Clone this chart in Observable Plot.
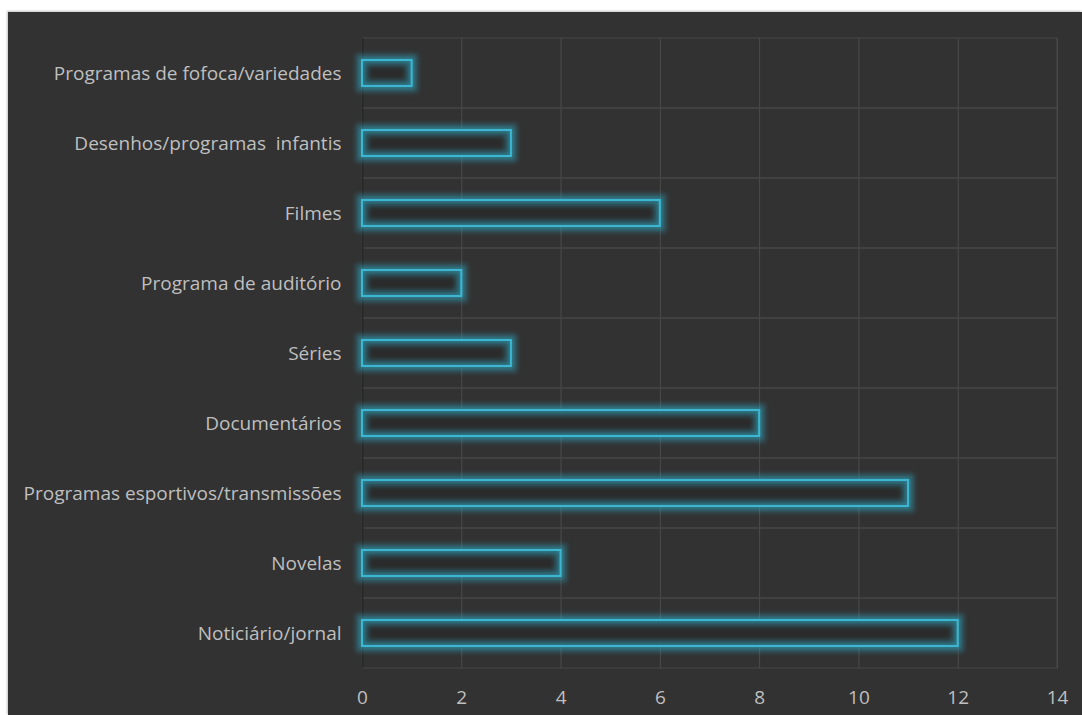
<!DOCTYPE html>
<html>
<head>
<meta charset="utf-8">
<script src="https://cdn.jsdelivr.net/npm/d3@7"></script>
<script src="https://cdn.jsdelivr.net/npm/@observablehq/plot@0.6"></script>
<style>
  html, body { margin: 0; padding: 0; background: #ffffff; width: 1082px; height: 715px; overflow: hidden; }
  #panel { position: absolute; left: 8px; top: 12px; width: 1074px; height: 703px; background: #323232; box-shadow: -1px -1px 2px rgba(0,0,0,0.25); }
  #panel svg { display: block; }
  .halo { filter: blur(2.5px); }
  .glow { filter: drop-shadow(0 0 2px rgba(47,179,208,0.8)); }
</style>
</head>
<body>
<div id="panel"></div>
<script>
const categories = [
  "Programas de fofoca/variedades",
  "Desenhos/programas  infantis",
  "Filmes",
  "Programa de auditório",
  "Séries",
  "Documentários",
  "Programas esportivos/transmissões",
  "Novelas",
  "Noticiário/jornal"
];
const values = [1, 3, 6, 2, 3, 8, 11, 4, 12];
const xTicks = [0, 2, 4, 6, 8, 10, 12, 14];

const data = categories.map((c, i) => ({category: c, value: values[i]}));

const chart = Plot.plot({
  width: 1074,
  height: 703,
  marginLeft: 354,
  marginRight: 25,
  marginTop: 26,
  marginBottom: 47,
  style: {background: "transparent", color: "#bfbfbf", fontFamily: "'Open Sans', sans-serif", fontSize: "19px"},
  x: {domain: [0, 14], ticks: xTicks, label: null, tickSize: 0},
  y: {domain: categories, padding: 0, label: null, tickSize: 0},
  marks: [
    Plot.gridX(xTicks, {stroke: "#4c4c4c", strokeOpacity: 1, strokeWidth: 1}),
    Plot.barX(categories, {x1: 0, x2: 14, y: d => d, fill: "none", stroke: "#474747", strokeWidth: 1}),
    Plot.ruleX([0], {stroke: "#262626", strokeWidth: 1.5}),
    Plot.barX(data, {x: "value", y: "category", insetTop: 22, insetBottom: 22, fill: "#2b2b2b"}),
    Plot.barX(data, {x: "value", y: "category", insetTop: 22, insetBottom: 22, fill: "none", stroke: "#2fb3d0", strokeOpacity: 0.38, strokeWidth: 12, className: "halo"}),
    Plot.barX(data, {x: "value", y: "category", insetTop: 22, insetBottom: 22, fill: "none", stroke: "#3db6d2", strokeWidth: 2, className: "glow"}),
    Plot.axisY({tickSize: 0, tickPadding: 21, fontSize: 19, fill: "#bfbfbf"}),
    Plot.axisX({ticks: xTicks, tickSize: 0, tickPadding: 22, fontSize: 19, fill: "#bfbfbf"})
  ]
});
document.getElementById("panel").appendChild(chart);
const bars = chart.querySelectorAll('g[aria-label="bar"]');
if (bars.length >= 3) {
  bars[bars.length - 2].classList.add("halo");
  bars[bars.length - 1].classList.add("glow");
}
</script>
</body>
</html>
